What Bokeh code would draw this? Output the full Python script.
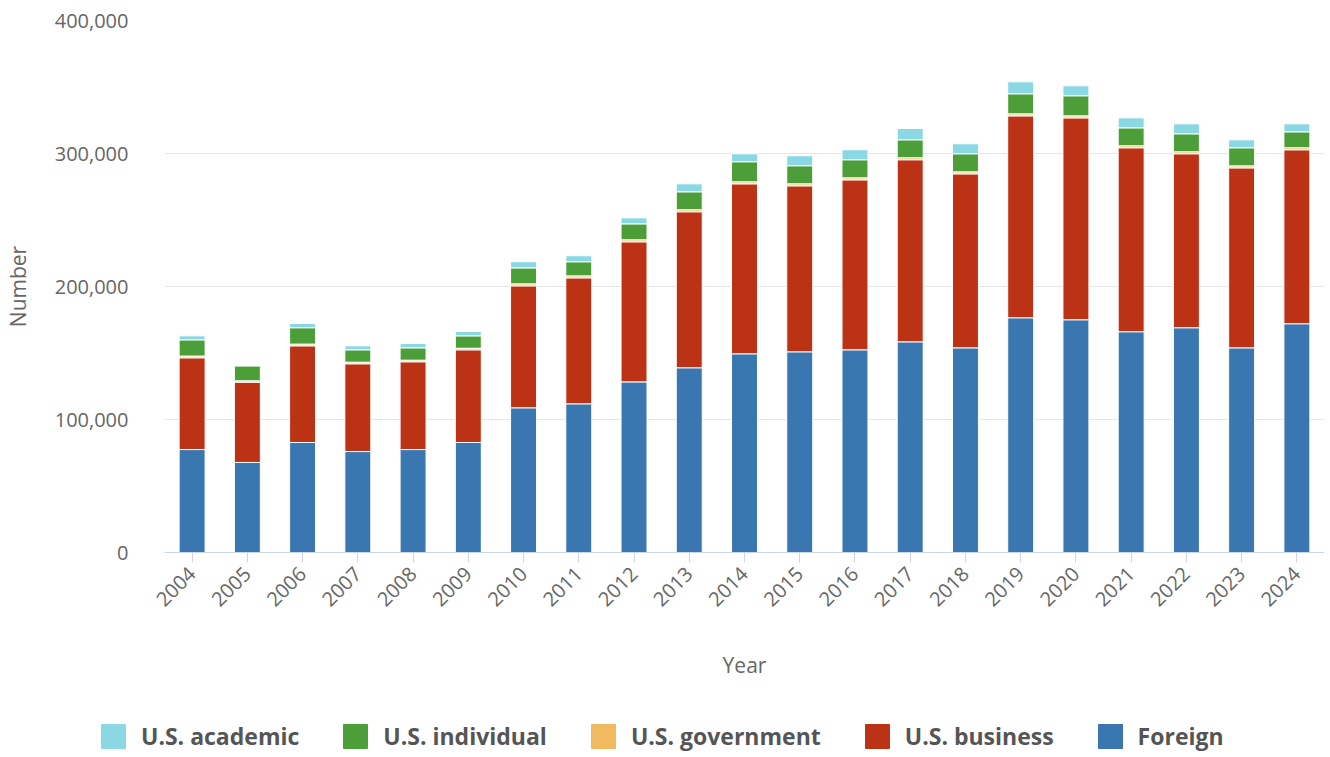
from bokeh.plotting import figure
from bokeh.models import (FactorRange, Range1d, FixedTicker, NumeralTickFormatter,
                          Legend, LegendItem, ColumnDataSource)
from bokeh.layouts import column, row
from bokeh.embed import file_html
from bokeh.resources import INLINE
import math

years = [str(y) for y in range(2004, 2025)]
foreign    = [77400, 67700, 82700, 75900, 77400, 82700, 108800, 111800, 128300, 138900, 149400,
              150900, 152400, 158400, 153900, 176500, 175000, 166000, 169000, 153900, 172000]
business   = [69000, 60400, 72700, 66000, 66000, 69700, 91700, 94700, 105300, 117300, 127800,
              124800, 127800, 136900, 130800, 151800, 151800, 138300, 130800, 135300, 130800]
government = [1300, 1000, 1300, 1200, 1200, 1200, 1500, 1500, 1500, 1500, 1500,
              1500, 1500, 1500, 1500, 1500, 1500, 1500, 1500, 1500, 1500]
individual = [12200, 11300, 12300, 9300, 9300, 9300, 12000, 10600, 12000, 13500, 15100,
              13600, 13600, 13500, 13600, 15100, 15100, 13500, 13500, 13600, 12000]
academic   = [3000, 0, 3200, 3000, 3200, 3300, 4600, 4500, 4500, 6000, 6000,
              7500, 7500, 8500, 7500, 9000, 7500, 7500, 7500, 6000, 6000]

series_keys = ["Foreign", "Business", "Government", "Individual", "Academic"]
series_labels = ["Foreign", "U.S. business", "U.S. government", "U.S. individual", "U.S. academic"]
colors = ["#3a76b0", "#bc3215", "#f1ba60", "#4c9f38", "#8ad8e4"]

source = ColumnDataSource(dict(year=years, Foreign=foreign, Business=business,
                               Government=government, Individual=individual, Academic=academic))

FONT = "Open Sans"

p = figure(x_range=FactorRange(*years), y_range=Range1d(0, 400000),
           width=1324, height=697, output_backend="svg", toolbar_location=None,
           min_border_left=155, min_border_right=0, min_border_top=20, min_border_bottom=145)
p.outline_line_color = None
p.background_fill_color = "white"
p.border_fill_color = "white"

renderers = p.vbar_stack(series_keys, x="year", width=0.47, color=colors,
                         line_color="white", line_width=1, source=source)

# y axis
p.yaxis.ticker = FixedTicker(ticks=[0, 100000, 200000, 300000, 400000])
p.yaxis.formatter = NumeralTickFormatter(format="0,0")
p.yaxis.axis_line_color = None
p.yaxis.major_tick_line_color = None
p.yaxis.minor_tick_line_color = None
p.yaxis.major_label_standoff = 30
p.yaxis.major_label_text_font = FONT
p.yaxis.major_label_text_font_size = "20px"
p.yaxis.major_label_text_color = "#666666"
p.yaxis.axis_label = "Number"
p.yaxis.axis_label_text_font = FONT
p.yaxis.axis_label_text_font_size = "21px"
p.yaxis.axis_label_text_font_style = "normal"
p.yaxis.axis_label_text_color = "#666666"
p.yaxis.axis_label_standoff = 20

# x axis
p.xaxis.axis_line_color = "#ccd6eb"
p.xaxis.major_tick_line_color = "#ccd6eb"
p.xaxis.major_tick_out = 10
p.xaxis.major_tick_in = 0
p.xaxis.minor_tick_line_color = None
p.xaxis.major_label_orientation = math.pi / 4
p.xaxis.major_label_standoff = 8
p.xaxis.major_label_text_font = FONT
p.xaxis.major_label_text_font_size = "20px"
p.xaxis.major_label_text_color = "#666666"
p.xaxis.axis_label = "Year"
p.xaxis.axis_label_text_font = FONT
p.xaxis.axis_label_text_font_size = "21px"
p.xaxis.axis_label_text_font_style = "normal"
p.xaxis.axis_label_text_color = "#666666"
p.xaxis.axis_label_standoff = 35

p.xgrid.grid_line_color = None
p.ygrid.grid_line_color = "#e6e6e6"
p.ygrid.grid_line_width = 1

# legend strip (separate figure; swatch glyphs sit outside its visible range)
lf = figure(width=1324, height=55, x_range=Range1d(0, 1), y_range=Range1d(0, 1),
            output_backend="svg", toolbar_location=None,
            x_axis_location=None, y_axis_location=None,
            min_border_left=0, min_border_right=0, min_border_top=0, min_border_bottom=0)
lf.outline_line_color = None
lf.grid.grid_line_color = None
hidden = ColumnDataSource(dict(x=[5.0], top=[5.0]))
swatches = [lf.vbar(x="x", top="top", bottom=4.0, width=0.1, color=c, line_color=c,
                    line_width=1, source=hidden) for c in colors]

items = [LegendItem(label=series_labels[i], renderers=[swatches[i]]) for i in [4, 3, 2, 1, 0]]
legend = Legend(items=items, orientation="horizontal", location=(98, 0),
                padding=0, margin=0, spacing=41, glyph_width=30, glyph_height=30,
                label_standoff=13, label_height=30,
                label_text_font=FONT, label_text_font_size="23px",
                label_text_font_style="bold", label_text_color="#555555",
                border_line_color=None, background_fill_alpha=0)
lf.add_layout(legend, "center")

layout = column(p, row(lf), spacing=0)
open("out.html", "w").write(file_html(layout, INLINE))
